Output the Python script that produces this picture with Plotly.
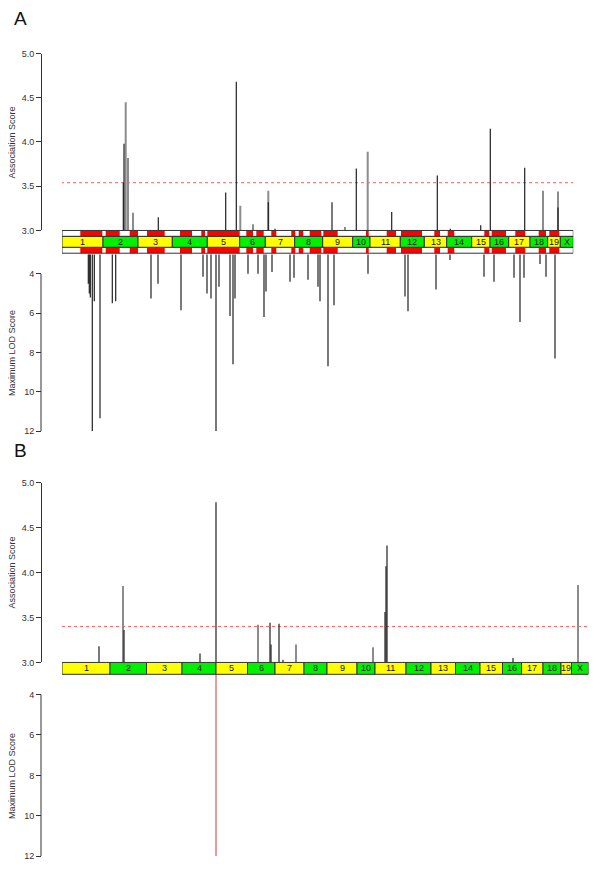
import plotly.graph_objects as go

# ---------------- data ----------------
CHROMS = ['1', '2', '3', '4', '5', '6', '7', '8', '9', '10', '11', '12', '13',
          '14', '15', '16', '17', '18', '19', 'X']
# chromosome boundaries along the (scaled) genome axis
A_BOUNDS = [0, 41, 76, 110.3, 145.3, 177.7, 203.3, 232.7, 260.7, 290.7, 308,
            338.3, 362.3, 384.7, 409.7, 428, 446.7, 468, 485.7, 498.3, 511.3]
B_BOUNDS = [0, 48, 84.5, 120, 154, 185.5, 213, 242, 265, 295, 313, 344, 369,
            393.5, 418, 440.5, 459.5, 481, 499, 509.5, 526.5]

# panel A: highlighted (red) regions
A_REGION_START = [18.3, 43.7, 67.7, 85, 118, 139.3, 145.3, 184.3, 194.3, 209.3,
                  229.3, 236.7, 247.7, 261.3, 304, 324.7, 339, 372.3, 385.7,
                  422.3, 429.7, 453.3, 476.7, 487.3]
A_REGION_END = [40.3, 57.7, 76, 102.7, 130, 143, 177.7, 191, 201.7, 214.3,
                233.3, 241.3, 259.3, 275.7, 306.7, 334, 360, 378, 392.3,
                427.3, 444, 463.3, 484, 497.3]

# panel A association scores
A_ASSOC_DARK_POS = [61.3, 62, 96.3, 163.7, 174.3, 206.3, 213, 270, 294.3,
                    329.7, 375.3, 388.3, 418.7, 428.3, 462.7, 496]
A_ASSOC_DARK_VAL = [3.54, 3.98, 3.15, 3.43, 4.68, 3.32, 3.02, 3.32, 3.70,
                    3.21, 3.62, 3.02, 3.06, 4.15, 3.71, 3.26]
A_ASSOC_GRAY_POS = [63.7, 66, 71, 178.3, 191, 206.3, 283, 305.7, 481, 496]
A_ASSOC_GRAY_VAL = [4.45, 3.82, 3.20, 3.28, 3.07, 3.45, 3.04, 3.89, 3.45, 3.44]
A_THRESHOLD = 3.54

# panel A maximum LOD scores
A_LOD_POS = [26.3, 27.3, 28.3, 30.3, 32.3, 38, 50.3, 53.7, 89, 96, 119, 141,
             145, 149, 154, 157, 168, 171, 173, 186, 196, 202, 204, 210, 228,
             232, 246, 256, 258, 266, 272, 306, 343, 346, 374, 388, 422, 432,
             452, 458, 462, 478, 484, 493]
A_LOD_VAL = [4.5, 5.0, 5.2, 12.0, 5.4, 11.35, 5.5, 5.4, 5.25, 4.5, 5.85, 4.15,
             5.0, 5.25, 12.0, 4.65, 6.15, 8.6, 5.25, 4.0, 4.0, 6.2, 4.9, 3.9,
             4.4, 4.2, 4.3, 4.65, 5.4, 8.7, 5.6, 4.0, 5.15, 5.9, 4.8, 3.3, 4.15,
             4.4, 4.2, 6.45, 4.2, 3.5, 4.15, 8.3]

# panel B association scores
B_ASSOC_DARK_POS = [37, 62, 138, 154, 208, 209, 217, 221, 323, 324, 325, 451]
B_ASSOC_DARK_VAL = [3.18, 3.36, 3.10, 4.78, 3.44, 3.20, 3.43, 3.03, 3.56,
                    4.07, 4.30, 3.05]
B_ASSOC_GRAY_POS = [61, 196, 234, 311, 516]
B_ASSOC_GRAY_VAL = [3.85, 3.42, 3.20, 3.17, 3.86]
B_THRESHOLD = 3.40

# panel B maximum LOD scores
B_LOD_POS = [154]
B_LOD_VAL = [12.0]

# ---------------- layout helpers ----------------
# the page body has an 8px margin; the figure is sized to fit the window
OFF = 8
W, H = 600 - 2 * OFF, 885 - 2 * OFF
X0 = 62            # left edge of chromosome band (window px)
AXIS_X = 41        # y-axis line (window px)


def fx(p):
    return (p - OFF) / W


def fy(p):
    return 1 - (p - OFF) / H


def segs(pos, val, base):
    xs, ys = [], []
    for p, v in zip(pos, val):
        xs += [p, p, None]
        ys += [base, v, None]
    return xs, ys


fig = go.Figure()

LA = A_BOUNDS[-1]
LB = B_BOUNDS[-1]
DARK = '#202020'
GRAY = '#8c8c8c'


def add_bars(pos, val, base, xa, ya, color, width):
    xs, ys = segs(pos, val, base)
    fig.add_trace(go.Scatter(x=xs, y=ys, mode='lines', xaxis=xa, yaxis=ya,
                             line=dict(color=color, width=width),
                             hoverinfo='skip', showlegend=False))


# threshold lines
fig.add_trace(go.Scatter(x=[-1, LA], y=[A_THRESHOLD, A_THRESHOLD], mode='lines',
                         xaxis='x', yaxis='y',
                         line=dict(color='#ff6060', width=1, dash='dot'),
                         showlegend=False, hoverinfo='skip'))
fig.add_trace(go.Scatter(x=[0, LB], y=[B_THRESHOLD, B_THRESHOLD], mode='lines',
                         xaxis='x2', yaxis='y3',
                         line=dict(color='#ff6060', width=1, dash='dot'),
                         showlegend=False, hoverinfo='skip'))

# panel A bars
add_bars(A_ASSOC_GRAY_POS, A_ASSOC_GRAY_VAL, 3, 'x', 'y', GRAY, 2)
add_bars(A_ASSOC_DARK_POS, A_ASSOC_DARK_VAL, 3, 'x', 'y', DARK, 1.2)
add_bars(A_LOD_POS, A_LOD_VAL, 3, 'x', 'y2', DARK, 1.2)

# panel B bars
add_bars(B_ASSOC_GRAY_POS, B_ASSOC_GRAY_VAL, 3, 'x2', 'y3', GRAY, 2)
add_bars(B_ASSOC_DARK_POS, B_ASSOC_DARK_VAL, 3, 'x2', 'y3', DARK, 1.2)
add_bars(B_LOD_POS, B_LOD_VAL, 3, 'x2', 'y4', '#d03a3a', 1)

shapes = []
annotations = []


def band(bounds, xref, top, bottom):
    for i, c in enumerate(CHROMS):
        color = '#ffff00' if (i % 2 == 0) else '#00f000'
        shapes.append(dict(type='rect', xref=xref, yref='paper',
                           x0=bounds[i], x1=bounds[i + 1],
                           y0=fy(bottom), y1=fy(top), fillcolor=color,
                           line=dict(color='#333333', width=1), layer='above'))
        annotations.append(dict(x=(bounds[i] + bounds[i + 1]) / 2, xref=xref,
                                y=fy((top + bottom) / 2), yref='paper',
                                text=c, showarrow=False,
                                font=dict(family='Liberation Sans, Arial, sans-serif',
                                          size=9, color='#111111'),
                                xanchor='center', yanchor='middle'))


def region_row(xref, top, bottom, L):
    shapes.append(dict(type='rect', xref=xref, yref='paper', x0=0, x1=L,
                       y0=fy(bottom), y1=fy(top), fillcolor='white',
                       line=dict(width=0), layer='above'))
    for s, e in zip(A_REGION_START, A_REGION_END):
        shapes.append(dict(type='rect', xref=xref, yref='paper', x0=s, x1=e,
                           y0=fy(bottom), y1=fy(top), fillcolor='#ff0000',
                           line=dict(width=0), layer='above'))
    shapes.append(dict(type='rect', xref=xref, yref='paper', x0=0, x1=L,
                       y0=fy(bottom), y1=fy(top), fillcolor='rgba(0,0,0,0)',
                       line=dict(color='#333333', width=1), layer='above'))


# panel A band: region rows and chromosome row
region_row('x', 228, 234, LA)
region_row('x', 245, 251, LA)
band(A_BOUNDS, 'x', 234, 245)
# panel B band
band(B_BOUNDS, 'x2', 665, 677)

# LOD axis lines (from 4 to 12 only)
for ya in ['y2', 'y4']:
    shapes.append(dict(type='line', xref='paper', yref=ya, x0=fx(AXIS_X),
                       x1=fx(AXIS_X), y0=4, y1=12,
                       line=dict(color='#333333', width=1)))

TXT = dict(family='Liberation Sans, Arial, sans-serif', size=9, color='#333333')

# axis titles and panel letters
for text, ycen in [('Association Score', 139), ('Maximum LOD Score', 352),
                   ('Association Score', 574), ('Maximum LOD Score', 780)]:
    annotations.append(dict(x=fx(12), y=fy(ycen), xref='paper', yref='paper',
                            text=text, textangle=-90, showarrow=False,
                            font=TXT, xanchor='center', yanchor='middle'))
for text, ycen in [('A', 14), ('B', 451)]:
    annotations.append(dict(x=fx(20), y=fy(ycen), xref='paper', yref='paper',
                            text=text, showarrow=False,
                            font=dict(family='Liberation Sans, Arial, sans-serif',
                                      size=19, color='#111111'),
                            xanchor='center', yanchor='middle'))

yax_common = dict(anchor='free', position=fx(AXIS_X), ticks='outside',
                  ticklen=5, tickwidth=1, tickcolor='#333333', showgrid=False,
                  zeroline=False, tickfont=TXT, fixedrange=True)

fig.update_layout(
    width=W, height=H, margin=dict(l=0, r=0, t=0, b=0),
    paper_bgcolor='white', plot_bgcolor='white', showlegend=False,
    shapes=shapes, annotations=annotations,
    xaxis=dict(domain=[fx(X0), fx(X0 + LA)], range=[0, LA], visible=False,
               anchor='y'),
    xaxis2=dict(domain=[fx(X0), fx(X0 + LB)], range=[0, LB], visible=False,
                anchor='y3'),
    yaxis=dict(domain=[fy(228), fy(49)], range=[3, 5],
               tickvals=[3, 3.5, 4, 4.5, 5], ticktext=['3.0', '3.5', '4.0', '4.5', '5.0'],
               showline=True, linecolor='#333333', linewidth=1, **yax_common),
    yaxis2=dict(domain=[fy(431), fy(252)], range=[12, 3],
                tickvals=[4, 6, 8, 10, 12], showline=False, **yax_common),
    yaxis3=dict(domain=[fy(665), fy(483)], range=[3, 5],
                tickvals=[3, 3.5, 4, 4.5, 5], ticktext=['3.0', '3.5', '4.0', '4.5', '5.0'],
                showline=True, linecolor='#333333', linewidth=1, **yax_common),
    yaxis4=dict(domain=[fy(861), fy(677)], range=[12, 3],
                tickvals=[4, 6, 8, 10, 12], showline=False, **yax_common),
)

fig.write_html('out.html')
